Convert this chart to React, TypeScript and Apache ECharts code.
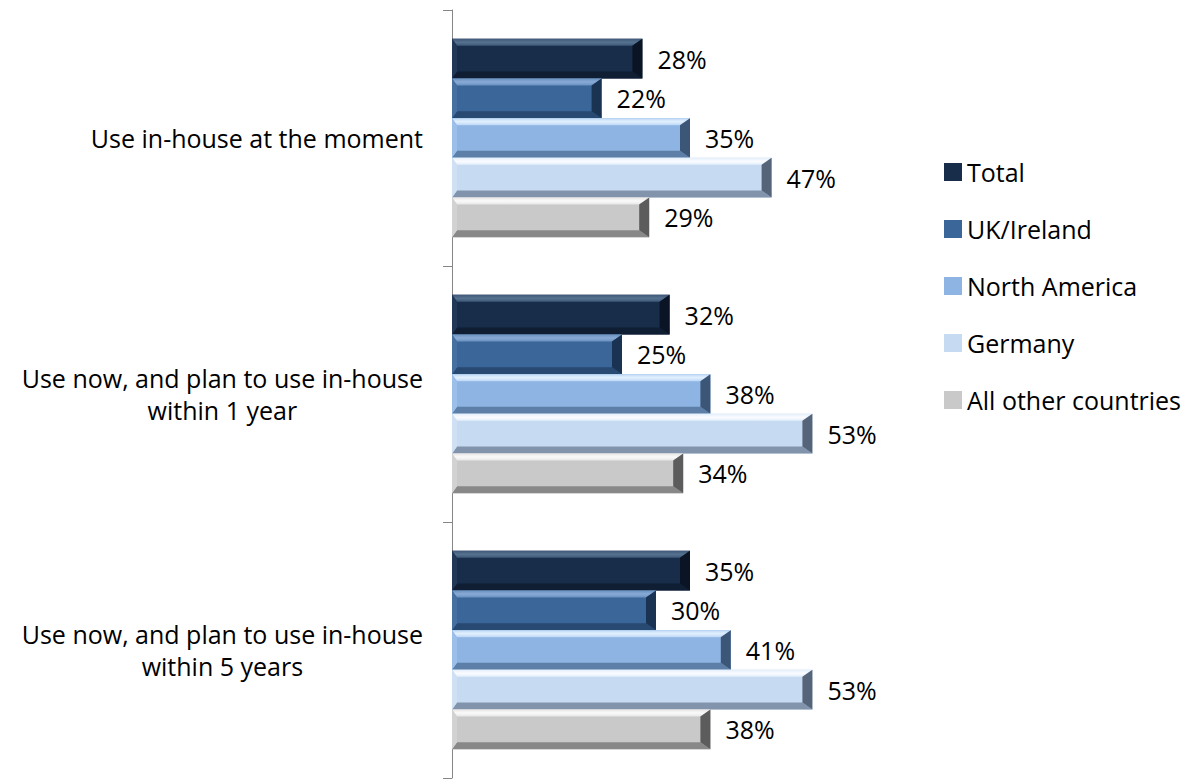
import React, { useEffect, useRef } from "react";
import * as echarts from "echarts";

const categories = [
  "Use in-house at the moment",
  "Use now, and plan to use in-house\nwithin 1 year",
  "Use now, and plan to use in-house\nwithin 5 years",
];
const seriesNames = ["Total", "UK/Ireland", "North America", "Germany", "All other countries"];
const totalValues = [28, 32, 35];
const ukValues = [22, 25, 30];
const naValues = [35, 38, 41];
const germanyValues = [47, 53, 53];
const otherValues = [29, 34, 38];
const allValues = [totalValues, ukValues, naValues, germanyValues, otherValues];

const FONT = "Open Sans";
const FS = 25;

const palettes = [
  { base: "#182d4a", top: "#3d5878", topHi: "#56728f", bottom: "#0f1e33", left: "#213856", right: "#0a1424" },
  { base: "#3b6699", top: "#6a91c0", topHi: "#88abd6", bottom: "#284a72", left: "#46709f", right: "#1b3352" },
  { base: "#8db4e3", top: "#bcd7f5", topHi: "#e2f0fe", bottom: "#5d7ea6", left: "#9bbfe9", right: "#3c5677" },
  { base: "#c6daf2", top: "#e3eefb", topHi: "#fafcff", bottom: "#8294ab", left: "#cfdff4", right: "#56647a" },
  { base: "#c9c9c9", top: "#e6e6e6", topHi: "#fafafa", bottom: "#888888", left: "#d2d2d2", right: "#5c5c5c" },
];

export default function App() {
  const ref = useRef<HTMLDivElement>(null);
  useEffect(() => {
    if (!ref.current) return;
    const chart = echarts.init(ref.current, undefined, { renderer: "svg" });
    const makeSeries = (si: number) => {
      const p = palettes[si];
      return {
        type: "custom",
        name: seriesNames[si],
        itemStyle: { color: p.base },
        encode: { x: 0, y: 1 },
        data: allValues[si].map((v, i) => [v, i]),
        renderItem: (params: any, api: any) => {
          const v = api.value(0);
          const ci = api.value(1);
          const end = api.coord([v, ci]);
          const start = api.coord([0, ci]);
          const bandH = api.size([0, 1])[1];
          const barW = bandH * 0.155;
          const y0 = end[1] - 2.5 * barW + si * barW;
          const y1 = y0 + barW;
          const x0 = start[0];
          const x1 = end[0];
          const b = 7;
          const lb = 5;
          const rb = 10;
          return {
            type: "group",
            children: [
              { type: "rect", shape: { x: x0, y: y0, width: x1 - x0, height: barW }, style: { fill: p.base } },
              {
                type: "polygon",
                shape: { points: [[x0, y0], [x1, y0], [x1 - rb, y0 + b], [x0 + lb, y0 + b]] },
                style: {
                  fill: new echarts.graphic.LinearGradient(0, 0, 0, 1, [
                    { offset: 0, color: p.top },
                    { offset: 0.5, color: p.topHi },
                    { offset: 1, color: p.top },
                  ]),
                },
              },
              {
                type: "polygon",
                shape: { points: [[x0, y1], [x1, y1], [x1 - rb, y1 - b], [x0 + lb, y1 - b]] },
                style: { fill: p.bottom },
              },
              {
                type: "polygon",
                shape: { points: [[x0, y0], [x0 + lb, y0 + b], [x0 + lb, y1 - b], [x0, y1]] },
                style: { fill: p.left },
              },
              {
                type: "polygon",
                shape: { points: [[x1, y0], [x1 - rb, y0 + b], [x1 - rb, y1 - b], [x1, y1]] },
                style: { fill: p.right },
              },
              {
                type: "text",
                x: x1 + 15,
                y: (y0 + y1) / 2,
                style: {
                  text: v + "%",
                  fill: "#000000",
                  fontSize: FS,
                  fontFamily: FONT,
                  align: "left",
                  verticalAlign: "middle",
                },
              },
            ],
          };
        },
      };
    };
    chart.setOption({
      animation: false,
      grid: { left: 452, top: 10, bottom: 3, width: 680, containLabel: false },
      legend: {
        orient: "vertical",
        left: 939,
        top: 153,
        itemWidth: 18,
        itemHeight: 18,
        itemGap: 29,
        icon: "rect",
        data: seriesNames,
        textStyle: { fontSize: FS, fontFamily: FONT, color: "#000", lineHeight: 28 },
      },
      xAxis: { type: "value", min: 0, max: 100, show: false },
      yAxis: {
        type: "category",
        inverse: true,
        data: categories,
        axisLine: { show: true, lineStyle: { color: "#868686", width: 1 } },
        axisTick: { show: true, length: 9, lineStyle: { color: "#868686" } },
        axisLabel: {
          margin: 29,
          formatter: (val: string) => val.split("\n").map((l) => `{c|${l}}`).join("\n"),
          rich: {
            c: { align: "center", fontSize: FS, fontFamily: FONT, color: "#000", lineHeight: 32 },
          },
        },
        splitLine: { show: false },
      },
      series: [0, 1, 2, 3, 4].map(makeSeries),
    });
    return () => chart.dispose();
  }, []);
  return (
    <div
      ref={ref}
      style={{ position: "absolute", left: 0, top: 0, width: 1189, height: 781, background: "#fff" }}
    />
  );
}
